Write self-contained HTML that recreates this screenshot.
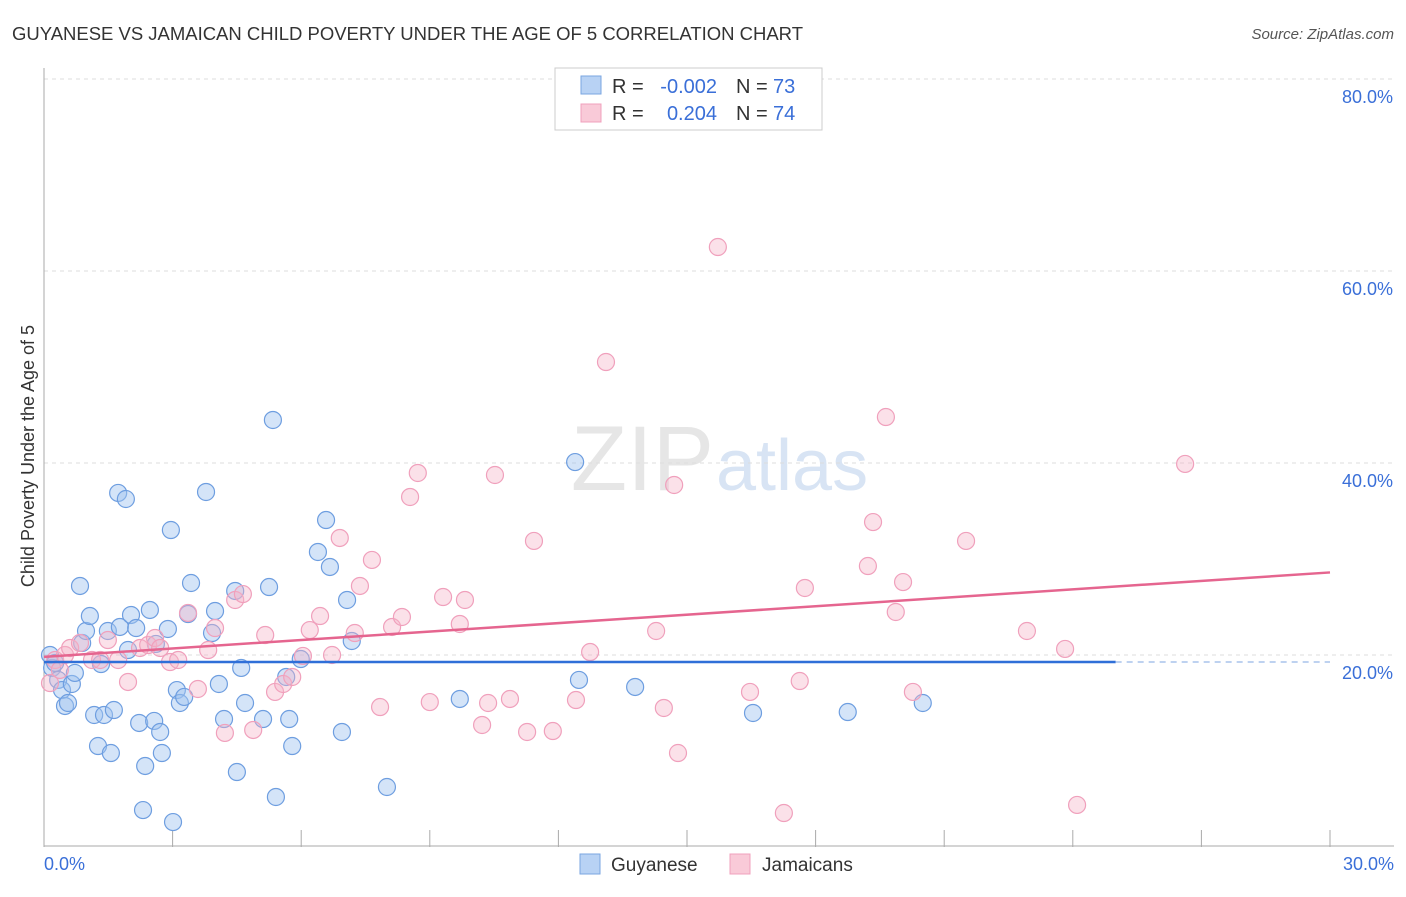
<!DOCTYPE html>
<html><head><meta charset="utf-8"><style>
body{margin:0;background:#fff;font-family:"Liberation Sans",sans-serif;}
svg text{font-family:"Liberation Sans",sans-serif;}
</style></head><body>
<svg id="chart" width="1406" height="892">
<text x="12" y="40" font-size="18.5" fill="#333" textLength="791">GUYANESE VS JAMAICAN CHILD POVERTY UNDER THE AGE OF 5 CORRELATION CHART</text>
<text x="1394" y="39" font-size="15" fill="#555" text-anchor="end" font-style="italic">Source: ZipAtlas.com</text>
<text x="714" y="490" font-size="92" fill="#e6e6e6" text-anchor="end" font-family="Liberation Serif">ZIP</text>
<text x="716" y="490" font-size="72" fill="#d8e4f4">atlas</text>
<g id="grid"></g><g id="axes"></g><g id="pts"></g><g id="trend"></g>
<text transform="translate(34,456) rotate(-90)" font-size="18" fill="#333" text-anchor="middle">Child Poverty Under the Age of 5</text>
<g>
<rect x="555" y="68" width="267" height="62" fill="#fff" stroke="#ccc"/>
<rect x="581" y="76" width="20" height="18" fill="#b8d2f4" stroke="#7aa6e0"/>
<rect x="581" y="104" width="20" height="18" fill="#f9cad8" stroke="#f0a0bc"/>
<text x="612" y="93" font-size="20" fill="#333">R =</text>
<text x="717" y="93" font-size="20" fill="#3a6fd8" text-anchor="end">-0.002</text>
<text x="736" y="93" font-size="20" fill="#333">N =</text>
<text x="773" y="93" font-size="20" fill="#3a6fd8">73</text>
<text x="612" y="120" font-size="20" fill="#333">R =</text>
<text x="717" y="120" font-size="20" fill="#3a6fd8" text-anchor="end">0.204</text>
<text x="736" y="120" font-size="20" fill="#333">N =</text>
<text x="773" y="120" font-size="20" fill="#3a6fd8">74</text>
</g>
<g>
<rect x="580" y="854" width="20" height="20" fill="#b8d2f4" stroke="#7aa6e0"/>
<text x="611" y="871" font-size="19" fill="#333">Guyanese</text>
<rect x="730" y="854" width="20" height="20" fill="#f9cad8" stroke="#f0a0bc"/>
<text x="762" y="871" font-size="19" fill="#333">Jamaicans</text>
</g>
</svg>
<script>
const yTicks=[20,40,60,80];
const xTickLabels=["0.0%","30.0%"];
const blueX=[0.14,0.19,0.26,0.33,0.42,0.49,0.56,0.65,0.72,0.84,0.89,0.98,1.07,1.17,1.26,1.33,1.40,1.49,1.56,1.63,1.73,1.77,1.91,1.96,2.03,2.15,2.22,2.36,2.31,2.47,2.57,2.61,2.71,2.75,2.89,2.96,3.01,3.10,3.17,3.27,3.36,3.43,3.78,3.92,3.99,4.08,4.20,4.46,4.50,4.60,4.69,5.11,5.25,5.34,5.41,5.65,5.72,5.79,5.99,6.39,6.58,6.67,6.95,7.07,7.18,8.00,9.70,12.39,12.48,13.79,16.54,18.75,20.50];
const blueY=[20.0,18.65,19.17,17.4,16.35,14.69,15.0,16.98,18.13,27.19,21.25,22.5,24.06,13.75,10.52,19.06,13.75,22.5,9.79,14.27,36.88,22.92,36.25,20.52,24.17,22.81,12.92,8.44,3.85,24.69,13.13,21.15,11.98,9.79,22.71,33.02,2.6,16.35,15.0,15.63,24.27,27.5,36.98,22.29,24.58,16.98,13.33,26.67,7.81,18.65,15.0,13.33,27.08,44.48,5.21,17.71,13.33,10.52,19.58,30.73,34.06,29.17,11.98,25.73,21.46,6.25,15.42,40.1,17.4,16.67,13.96,14.06,15.0];
const pinkX=[0.14,0.26,0.37,0.49,0.61,0.84,1.12,1.31,1.49,1.73,1.96,2.24,2.43,2.59,2.71,2.94,3.13,3.36,3.59,3.83,3.99,4.22,4.46,4.64,4.88,5.16,5.39,5.58,5.79,6.04,6.20,6.44,6.72,6.90,7.25,7.37,7.65,7.84,8.12,8.35,8.54,8.72,9.00,9.31,9.70,9.82,10.22,10.36,10.52,10.87,11.27,11.43,11.87,12.41,12.74,13.11,14.28,14.46,14.70,14.79,15.72,16.47,17.26,17.63,17.75,19.22,19.34,19.64,19.87,20.04,20.27,21.51,22.93,23.82,24.10,26.62];
const pinkY=[17.08,19.48,18.44,20.0,20.73,21.25,19.48,19.48,21.56,19.48,17.19,20.73,21.04,21.77,20.73,19.27,19.48,24.38,16.46,20.52,22.81,11.88,25.73,26.35,12.19,22.08,16.15,16.98,17.71,19.9,22.6,24.06,20.0,32.19,22.29,27.19,29.9,14.58,22.92,23.96,36.46,38.96,15.1,26.04,23.23,25.73,12.71,15.0,38.75,15.42,11.98,31.88,12.08,15.31,20.31,50.52,22.5,14.48,37.71,9.79,62.5,16.15,3.54,17.29,26.98,29.27,33.85,44.79,24.48,27.6,16.15,31.88,22.5,20.63,4.38,39.9];
const blueTrend=[[0,19.27],[25,19.27],[30,19.27]];
const pinkTrend=[[0,19.8],[30,28.6]];
const X=v=>44+v*(1286/30), Y=v=>847-v*9.6;
const NS="http://www.w3.org/2000/svg";
function mk(t,a,p){const e=document.createElementNS(NS,t);for(const k in a)e.setAttribute(k,a[k]);p.appendChild(e);return e;}
const grid=document.getElementById('grid'),axes=document.getElementById('axes');
yTicks.forEach(t=>{
 const l=mk('line',{x1:44,x2:1394,y1:Y(t),y2:Y(t),stroke:'#ddd','stroke-dasharray':'4,4'},grid);
 
 
 const tx=mk('text',{x:1393,y:Y(t)+24,'font-size':18,fill:'#3a6fd8','text-anchor':'end'},grid);tx.textContent=t.toFixed(1)+'%';
 
 
});
mk('line',{x1:44,x2:44,y1:68,y2:847,stroke:'#aaa'},axes);
mk('line',{x1:44,x2:1394,y1:846,y2:846,stroke:'#aaa'},axes);
for(let i=0;i<=10;i++){const tk=mk('line',{x1:X(i*3),x2:X(i*3),y1:830,y2:847,stroke:'#aaa'},axes);
 
 }
[[0,'start',44],[30,'end',1394]].forEach((d,i)=>{const t=mk('text',{x:d[2],y:870,'font-size':18,fill:'#3a6fd8','text-anchor':d[1]},axes);t.textContent=xTickLabels[i];
 
 });
const pts=document.getElementById('pts');
blueX.forEach((x,i)=>{const c=mk('circle',{cx:X(x),cy:Y(blueY[i]),r:8.5,fill:'rgba(160,196,240,0.45)',stroke:'#6e9ee0','stroke-width':1.2},pts);
 
 });
pinkX.forEach((x,i)=>{const c=mk('circle',{cx:X(x),cy:Y(pinkY[i]),r:8.5,fill:'rgba(245,180,200,0.4)',stroke:'#f0a0bc','stroke-width':1.2},pts);
 
 });
const tr=document.getElementById('trend');
const b1=mk('line',{x1:X(blueTrend[0][0]),y1:Y(blueTrend[0][1]),x2:X(blueTrend[1][0]),y2:Y(blueTrend[1][1]),stroke:'#2f6fd8','stroke-width':2.5},tr);


const b2=mk('line',{x1:X(blueTrend[1][0]),y1:Y(blueTrend[1][1]),x2:X(blueTrend[2][0]),y2:Y(blueTrend[2][1]),stroke:'#a8c4ec','stroke-width':1.5,'stroke-dasharray':'6,5'},tr);


const p1=mk('line',{x1:X(pinkTrend[0][0]),y1:Y(pinkTrend[0][1]),x2:X(pinkTrend[1][0]),y2:Y(pinkTrend[1][1]),stroke:'#e5658f','stroke-width':2.5},tr);


</script>
</body></html>
